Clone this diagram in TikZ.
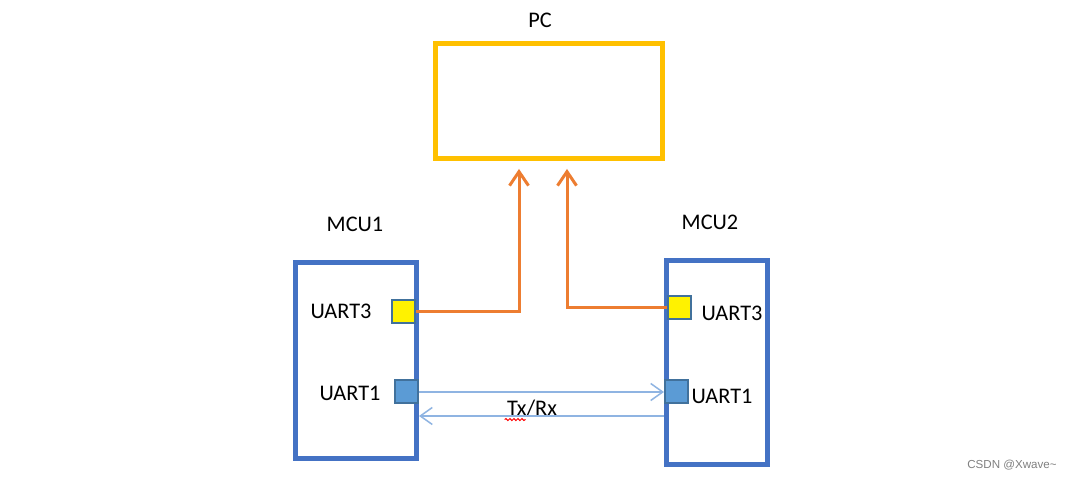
\documentclass[tikz,border=0pt]{standalone}
\usepackage{fontspec}
\setmainfont{Carlito}
\newfontfamily\markfont{Liberation Sans}
\usepackage{tikz}
\usetikzlibrary{positioning, arrows.meta, decorations.pathmorphing}

\definecolor{pcyellow}{RGB}{255,192,0}
\definecolor{mcublue}{RGB}{68,114,196}
\definecolor{portedge}{RGB}{65,113,156}
\definecolor{portblue}{RGB}{91,155,213}
\definecolor{linkorange}{RGB}{237,125,49}
\definecolor{linkblue}{RGB}{143,180,226}

\tikzset{
  board/.style={draw=mcublue, line width=0.1cm, inner sep=0pt},
  port/.style={draw=portedge, line width=0.04cm, minimum size=0.46cm, inner sep=0pt},
  lbl/.style={font=\fontsize{12.7}{15}\selectfont, inner sep=0pt},
  uplink/.style={draw=linkorange, line width=0.06cm, -{Straight Barb[length=0.28cm, width=0.38cm]}},
  serial/.style={draw=linkblue, line width=0.03cm, -{Straight Barb[length=0.24cm, width=0.34cm]}}
}

\begin{document}
\begin{tikzpicture}[x=0.02cm, y=-0.02cm]
\useasboundingbox[fill=white] (0,0) rectangle (1066,479);

\node[draw=pcyellow, line width=0.1cm, minimum width=4.54cm, minimum height=2.3cm] at (549,101) (pc) {} ;
\node[board, minimum width=2.44cm, minimum height=3.94cm] at (356,360.5) (mcu1) {} ;
\node[board, minimum width=2.04cm, minimum height=4.1cm] at (717,362.5) (mcu2) {} ;

\node[port, fill=yellow] at (403.5,311.5) (uart3a) {} ;
\node[port, fill=portblue] at (406.5,392) (uart1a) {} ;
\node[port, fill=yellow] at (679,308) (uart3b) {} ;
\node[port, fill=portblue] at (676.5,392) (uart1b) {} ;

\node[lbl] at (540,20) (pclabel) {PC} ;
\node[lbl] at (355,224) (mcu1label) {MCU1} ;
\node[lbl] at (710,222) (mcu2label) {MCU2} ;
\node[lbl] at (341,311) (uart3alabel) {UART3} ;
\node[lbl] at (350,393) (uart1alabel) {UART1} ;
\node[lbl] at (732,313) (uart3blabel) {UART3} ;
\node[lbl] at (722,396) (uart1blabel) {UART1} ;
\node[lbl] at (532,408) (txrx) {Tx/Rx} ;

\draw[uplink, shorten >=0.16cm] (uart3a.east) -| ([xshift=-0.6cm]pc.south) ;
\draw[uplink, shorten >=0.16cm] (uart3b.west) -| ([xshift=0.36cm]pc.south) ;

\draw[serial] (uart1a.east) -- (uart1b.west) ;
\draw[serial] ([yshift=-0.48cm]uart1b.west) -- ([yshift=-0.48cm]uart1a.east) ;

% spell-check squiggle under the label
\draw[red, line width=0.02cm, decorate, decoration={snake, amplitude=0.02cm, segment length=0.08cm}]
  ([xshift=-0.04cm, yshift=-0.06cm]txrx.south west) -- ++(0.42cm,0) ;

\node[text=gray, font=\markfont\fontsize{6.6}{8}\selectfont] at (1012,465) (mark) {CSDN @Xwave\textasciitilde} ;
\end{tikzpicture}
\end{document}
